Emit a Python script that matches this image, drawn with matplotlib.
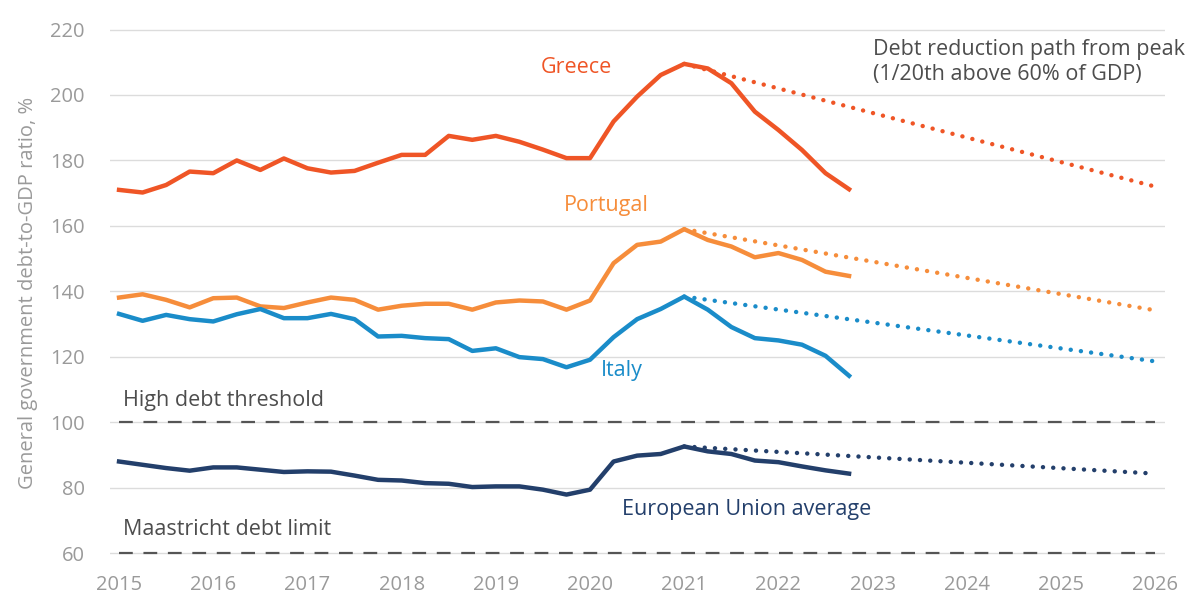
import numpy as np
import matplotlib
matplotlib.use('Agg')
import matplotlib.pyplot as plt

plt.rcParams['font.family'] = ['Open Sans', 'DejaVu Sans']

# quarterly observations, 2015Q1 .. 2022Q4
quarters = 2015 + np.arange(32) * 0.25

greece = [171.0, 170.2, 172.5, 176.6, 176.1, 180.0, 177.1, 180.6,
          177.6, 176.3, 176.8, 179.3, 181.7, 181.7, 187.5, 186.3,
          187.5, 185.7, 183.3, 180.7, 180.7, 191.9, 199.5, 206.1,
          209.5, 208.1, 203.6, 194.9, 189.3, 183.2, 176.1, 171.2]
portugal = [138.1, 139.1, 137.4, 135.1, 137.9, 138.1, 135.4, 134.9,
            136.6, 138.1, 137.4, 134.4, 135.6, 136.2, 136.2, 134.4,
            136.6, 137.2, 136.9, 134.4, 137.2, 148.6, 154.2, 155.2,
            159.0, 155.7, 153.7, 150.4, 151.7, 149.6, 146.0, 144.7]
italy = [133.1, 131.0, 132.8, 131.5, 130.8, 133.0, 134.6, 131.8,
         131.8, 133.1, 131.5, 126.2, 126.4, 125.7, 125.4, 121.8,
         122.6, 119.9, 119.3, 116.8, 119.1, 126.0, 131.5, 134.6,
         138.4, 134.4, 129.1, 125.7, 125.0, 123.7, 120.3, 114.2]
eu = [88.0, 87.0, 86.0, 85.2, 86.2, 86.2, 85.5, 84.8,
      85.0, 84.9, 83.7, 82.4, 82.2, 81.4, 81.2, 80.2,
      80.4, 80.4, 79.4, 77.9, 79.4, 88.0, 89.8, 90.3,
      92.6, 91.1, 90.3, 88.3, 87.8, 86.5, 85.3, 84.3]

# debt reduction path: from the 2021 peak to 2026
path_years = [2021, 2026]
greece_path = [209.5, 172.0]
portugal_path = [159.0, 134.2]
italy_path = [138.4, 118.6]
eu_path = [92.6, 84.3]

high_debt = 100
maastricht = 60

c_greece = '#EF5526'
c_portugal = '#F68D3B'
c_italy = '#1A8CC9'
c_eu = '#233F6B'
c_text = '#4d4d4d'
c_axis = '#9a9a9a'
fs = 15.5

fig = plt.figure(figsize=(11.89, 5.97), dpi=100)
ax = fig.add_axes([0.0922, 0.057, 0.8873, 0.9045])

for s in ax.spines.values():
    s.set_visible(False)
ax.set_xlim(2014.9, 2026.1)
ax.set_ylim(57, 222)
ax.set_yticks(range(60, 221, 20))
ax.set_xticks(range(2015, 2027))
ax.tick_params(length=0, labelsize=14.5, labelcolor=c_axis)
ax.tick_params(axis='y', pad=18)
ax.tick_params(axis='x', pad=9)
ax.yaxis.grid(True, color='#dcdcdc', lw=1)
ax.set_axisbelow(True)
ax.set_ylabel('General government debt-to-GDP ratio, %', fontsize=14.5,
              color=c_axis, labelpad=9)

for y in (high_debt, maastricht):
    ax.plot([2015, 2026], [y, y], color='#555555', lw=1.6,
            dashes=(6.2, 4.8), clip_on=False, zorder=2)

for vals, path, col in [(greece, greece_path, c_greece),
                        (portugal, portugal_path, c_portugal),
                        (italy, italy_path, c_italy),
                        (eu, eu_path, c_eu)]:
    ax.plot(path_years, path, color=col, lw=3.2, linestyle=(0, (0.01, 2.3)),
            dash_capstyle='round', zorder=3)
    ax.plot(quarters, vals, color=col, lw=3.2, solid_joinstyle='round', zorder=4)

ax.text(2019.85, 208.5, 'Greece', color=c_greece, fontsize=fs, ha='center', va='center')
ax.text(2020.17, 166.1, 'Portugal', color=c_portugal, fontsize=fs, ha='center', va='center')
ax.text(2020.34, 115.7, 'Italy', color=c_italy, fontsize=fs, ha='center', va='center')
ax.text(2020.34, 73.3, 'European Union average', color=c_eu, fontsize=fs, va='center')
ax.text(2015.04, 106.6, 'High debt threshold', color=c_text, fontsize=fs, va='center')
ax.text(2015.04, 67.2, 'Maastricht debt limit', color=c_text, fontsize=fs, va='center')
ax.text(2023.0, 210.1, 'Debt reduction path from peak\n(1/20th above 60% of GDP)',
        color=c_text, fontsize=fs, va='center', linespacing=1.2)

fig.savefig('out.png', dpi=100)
